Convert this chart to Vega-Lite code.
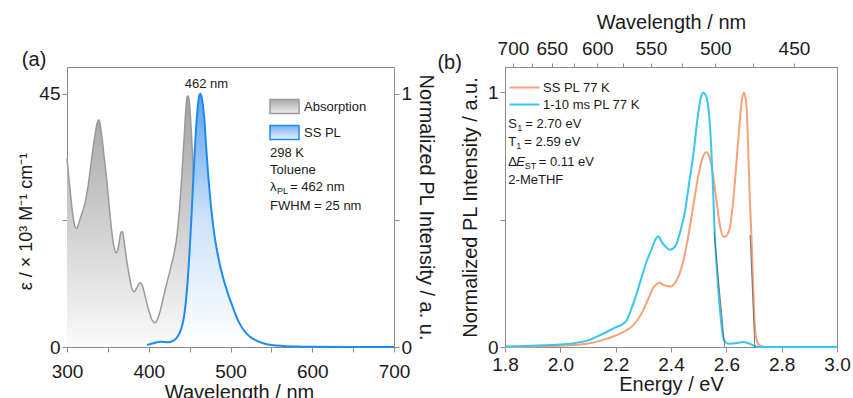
{
  "$schema": "https://vega.github.io/schema/vega-lite/v6.json",
  "padding": {"left": 17, "top": 11, "right": 5, "bottom": 0},
  "bounds": "flush",
  "spacing": 111,
  "resolve": {"scale": {"stroke": "independent"}},
  "config": {
    "font": "Liberation Sans",
    "view": {"stroke": "#8c8c8c", "strokeWidth": 1},
    "axis": {
      "domainColor": "#8c8c8c", "tickColor": "#8c8c8c", "tickSize": 5,
      "labelFont": "Liberation Sans", "labelFontSize": 19, "labelColor": "#1a1a1a",
      "titleFont": "Liberation Sans", "titleFontSize": 20, "titleFontWeight": "normal", "titleColor": "#1a1a1a",
      "grid": false, "labelPadding": 2, "labelFlush": false, "labelOverlap": false
    },
    "legend": {"padding": 0, "labelFont": "Liberation Sans", "labelFontSize": 13, "labelColor": "#1a1a1a"},
    "text": {"font": "Liberation Sans", "fontSize": 13, "color": "#1a1a1a"},
    "title": {"font": "Liberation Sans", "fontSize": 20, "fontWeight": "normal", "color": "#1a1a1a"}
  },
  "hconcat": [
    {
      "width": 327,
      "height": 280,
      "title": {"text": "(a)", "anchor": "start", "frame": "bounds", "offset": 0, "baseline": "alphabetic", "dx": 4, "dy": 19},
      "layer": [
        {
          "data": {"values": [
            {"wl": 300, "eps": 33.5}, {"wl": 302, "eps": 30.5}, {"wl": 304, "eps": 27.5}, {"wl": 306, "eps": 24.8},
            {"wl": 308, "eps": 22.6}, {"wl": 310, "eps": 21.3}, {"wl": 312, "eps": 21.1}, {"wl": 314, "eps": 21.8},
            {"wl": 317, "eps": 23.2}, {"wl": 320, "eps": 24.5}, {"wl": 323, "eps": 26.2}, {"wl": 326, "eps": 28.8},
            {"wl": 329, "eps": 32.2}, {"wl": 332, "eps": 35.5}, {"wl": 335, "eps": 38.3}, {"wl": 337, "eps": 39.8},
            {"wl": 339, "eps": 40.4}, {"wl": 341, "eps": 39.2}, {"wl": 343, "eps": 37.0}, {"wl": 345, "eps": 34.3},
            {"wl": 348, "eps": 30.6}, {"wl": 351, "eps": 26.0}, {"wl": 354, "eps": 21.5}, {"wl": 357, "eps": 18.2},
            {"wl": 360, "eps": 16.7}, {"wl": 362, "eps": 17.2}, {"wl": 364, "eps": 18.8}, {"wl": 366, "eps": 20.4},
            {"wl": 368, "eps": 20.5}, {"wl": 370, "eps": 18.6}, {"wl": 373, "eps": 15.4}, {"wl": 376, "eps": 12.8},
            {"wl": 379, "eps": 10.6}, {"wl": 382, "eps": 9.8}, {"wl": 385, "eps": 10.4}, {"wl": 388, "eps": 11.2},
            {"wl": 390, "eps": 11.4}, {"wl": 392, "eps": 11.0}, {"wl": 395, "eps": 9.4}, {"wl": 398, "eps": 7.6},
            {"wl": 401, "eps": 6.0}, {"wl": 404, "eps": 4.8}, {"wl": 407, "eps": 4.3}, {"wl": 410, "eps": 4.7},
            {"wl": 413, "eps": 5.9}, {"wl": 416, "eps": 7.6}, {"wl": 419, "eps": 9.5}, {"wl": 422, "eps": 11.3},
            {"wl": 425, "eps": 13.0}, {"wl": 428, "eps": 14.8}, {"wl": 431, "eps": 16.6}, {"wl": 434, "eps": 19.2},
            {"wl": 437, "eps": 23.5}, {"wl": 440, "eps": 29.5}, {"wl": 443, "eps": 36.5}, {"wl": 445, "eps": 41.5},
            {"wl": 447, "eps": 44.5}, {"wl": 448.5, "eps": 44.6}, {"wl": 450, "eps": 43.0}, {"wl": 452, "eps": 38.5},
            {"wl": 455, "eps": 30.0}, {"wl": 458, "eps": 22.0}, {"wl": 461, "eps": 14.5}, {"wl": 464, "eps": 9.0},
            {"wl": 467, "eps": 5.5}, {"wl": 470, "eps": 3.5}, {"wl": 475, "eps": 1.8}, {"wl": 480, "eps": 1.0},
            {"wl": 490, "eps": 0.4}, {"wl": 500, "eps": 0.2}, {"wl": 520, "eps": 0.0}
          ]},
          "layer": [
            {
              "mark": {"type": "area", "interpolate": "monotone",
                "fill": {"gradient": "linear", "x1": 0, "y1": 0, "x2": 0, "y2": 1,
                  "stops": [{"offset": 0, "color": "#a2a2a2"}, {"offset": 1, "color": "#fbfbfb"}]}},
              "encoding": {
                "x": {"field": "wl", "type": "quantitative",
                  "scale": {"domain": [300, 700], "nice": false, "zero": false},
                  "axis": {"title": "Wavelength / nm", "labelPadding": 10, "titlePadding": 1, "titleX": 172,
                    "values": [300, 350, 400, 450, 500, 550, 600, 650, 700],
                    "labelExpr": "datum.value % 100 == 0 ? format(datum.value, 'd') : ''"}},
                "y": {"field": "eps", "type": "quantitative",
                  "scale": {"domain": [0, 49.76], "nice": false},
                  "axis": {"title": "ε / × 10³ M⁻¹ cm⁻¹", "titlePadding": 3, "titleFontSize": 18, "titleY": 154,
                    "values": [0, 22.5, 45],
                    "labelExpr": "datum.value == 45 ? '45' : datum.value == 0 ? '0' : ''"}}
              }
            },
            {
              "mark": {"type": "line", "interpolate": "monotone", "strokeWidth": 1.5},
              "encoding": {
                "x": {"field": "wl", "type": "quantitative"},
                "y": {"field": "eps", "type": "quantitative"},
                "stroke": {"datum": "Absorption", "type": "nominal",
                  "scale": {"domain": ["Absorption", "SS PL"], "range": ["#9a9a9a", "#1f8bf0"]},
                  "legend": {"title": null, "orient": "none", "legendX": 202, "legendY": 24,
                    "symbolType": "M-1,-0.48H1V0.48H-1Z", "symbolSize": 841, "symbolStrokeWidth": 1.5,
                    "labelOffset": 4, "rowPadding": 0,
                    "encode": {"symbols": {"update": {"fill": [
                      {"test": "datum.value === 'Absorption'", "value": {"gradient": "linear", "x1": 0, "y1": 0, "x2": 0, "y2": 1,
                        "stops": [{"offset": 0, "color": "#a8a8a8"}, {"offset": 1, "color": "#efefef"}]}},
                      {"value": {"gradient": "linear", "x1": 0, "y1": 0, "x2": 0, "y2": 1,
                        "stops": [{"offset": 0, "color": "#74b0f3"}, {"offset": 1, "color": "#eaf3fd"}]}}
                    ]}}}}}
              }
            },
            {
              "data": {"values": [{}]},
              "mark": {"type": "text", "align": "center", "baseline": "middle"},
              "encoding": {"x": {"datum": 470.6}, "y": {"datum": 46.8}, "text": {"value": "462 nm"}}
            },
            {
              "data": {"values": [{}]},
              "mark": {"type": "text", "align": "left", "baseline": "middle"},
              "encoding": {"x": {"datum": 548.4}, "y": {"datum": 34.4}, "text": {"value": "298 K"}}
            },
            {
              "data": {"values": [{}]},
              "mark": {"type": "text", "align": "left", "baseline": "middle"},
              "encoding": {"x": {"datum": 548.4}, "y": {"datum": 31.5}, "text": {"value": "Toluene"}}
            },
            {
              "data": {"values": [{}]},
              "mark": {"type": "text", "align": "left", "baseline": "middle"},
              "encoding": {"x": {"datum": 548.4}, "y": {"datum": 28.5}, "text": {"value": "λ"}}
            },
            {
              "data": {"values": [{}]},
              "mark": {"type": "text", "align": "left", "baseline": "middle", "fontSize": 9, "dx": 7, "dy": 4},
              "encoding": {"x": {"datum": 548.4}, "y": {"datum": 28.5}, "text": {"value": "PL"}}
            },
            {
              "data": {"values": [{}]},
              "mark": {"type": "text", "align": "left", "baseline": "middle", "dx": 20},
              "encoding": {"x": {"datum": 548.4}, "y": {"datum": 28.5}, "text": {"value": "= 462 nm"}}
            },
            {
              "data": {"values": [{}]},
              "mark": {"type": "text", "align": "left", "baseline": "middle"},
              "encoding": {"x": {"datum": 548.4}, "y": {"datum": 25.0}, "text": {"value": "FWHM = 25 nm"}}
            }
          ]
        },
        {
          "data": {"values": [
            {"wl": 398, "pl": 0.008}, {"wl": 402, "pl": 0.012}, {"wl": 406, "pl": 0.015}, {"wl": 410, "pl": 0.019},
            {"wl": 414, "pl": 0.021}, {"wl": 418, "pl": 0.02}, {"wl": 422, "pl": 0.019}, {"wl": 426, "pl": 0.02},
            {"wl": 430, "pl": 0.025}, {"wl": 433, "pl": 0.032}, {"wl": 436, "pl": 0.045}, {"wl": 439, "pl": 0.065},
            {"wl": 442, "pl": 0.1}, {"wl": 444, "pl": 0.14}, {"wl": 446, "pl": 0.2}, {"wl": 448, "pl": 0.28},
            {"wl": 450, "pl": 0.38}, {"wl": 452, "pl": 0.5}, {"wl": 454, "pl": 0.63}, {"wl": 456, "pl": 0.76},
            {"wl": 458, "pl": 0.87}, {"wl": 460, "pl": 0.95}, {"wl": 462, "pl": 0.995}, {"wl": 463, "pl": 1.0},
            {"wl": 464, "pl": 0.995}, {"wl": 466, "pl": 0.96}, {"wl": 468, "pl": 0.9}, {"wl": 470, "pl": 0.8},
            {"wl": 472, "pl": 0.71}, {"wl": 474, "pl": 0.63}, {"wl": 476, "pl": 0.56}, {"wl": 478, "pl": 0.5},
            {"wl": 480, "pl": 0.45}, {"wl": 483, "pl": 0.39}, {"wl": 486, "pl": 0.34}, {"wl": 490, "pl": 0.285},
            {"wl": 494, "pl": 0.24}, {"wl": 498, "pl": 0.2}, {"wl": 502, "pl": 0.165}, {"wl": 506, "pl": 0.13},
            {"wl": 510, "pl": 0.1}, {"wl": 515, "pl": 0.072}, {"wl": 520, "pl": 0.052}, {"wl": 525, "pl": 0.038},
            {"wl": 530, "pl": 0.028}, {"wl": 540, "pl": 0.015}, {"wl": 550, "pl": 0.008}, {"wl": 565, "pl": 0.004},
            {"wl": 580, "pl": 0.002}, {"wl": 600, "pl": 0.001}, {"wl": 650, "pl": 0.0}, {"wl": 700, "pl": 0.0}
          ]},
          "layer": [
            {
              "mark": {"type": "area", "interpolate": "monotone",
                "fill": {"gradient": "linear", "x1": 0, "y1": 0, "x2": 0, "y2": 1,
                  "stops": [{"offset": 0, "color": "#5aa2f0"}, {"offset": 0.5, "color": "#cfe3fa"}, {"offset": 1, "color": "#ffffff"}]}},
              "encoding": {
                "x": {"field": "wl", "type": "quantitative"},
                "y": {"field": "pl", "type": "quantitative",
                  "scale": {"domain": [0, 1.106], "nice": false},
                  "axis": {"orient": "right", "title": "Normalized PL Intensity / a. u.", "titlePadding": 4,
                    "values": [0, 0.5, 1],
                    "labelExpr": "datum.value == 1 ? '1' : datum.value == 0 ? '0' : ''"}}
              }
            },
            {
              "mark": {"type": "line", "interpolate": "monotone", "strokeWidth": 2},
              "encoding": {
                "x": {"field": "wl", "type": "quantitative"},
                "y": {"field": "pl", "type": "quantitative"},
                "stroke": {"datum": "SS PL", "type": "nominal"}
              }
            }
          ]
        }
      ],
      "resolve": {"scale": {"y": "independent"}}
    },
    {
      "width": 332,
      "height": 280,
      "title": {"text": "(b)", "anchor": "start", "frame": "bounds", "offset": 0, "baseline": "alphabetic", "dx": -23, "dy": 77},
      "layer": [
        {
          "data": {"values": [
            {"E": 1.80, "I": 0.0, "s": "SS PL 77 K"}, {"E": 1.90, "I": 0.002, "s": "SS PL 77 K"},
            {"E": 2.00, "I": 0.005, "s": "SS PL 77 K"}, {"E": 2.05, "I": 0.008, "s": "SS PL 77 K"},
            {"E": 2.10, "I": 0.014, "s": "SS PL 77 K"}, {"E": 2.15, "I": 0.026, "s": "SS PL 77 K"},
            {"E": 2.20, "I": 0.045, "s": "SS PL 77 K"}, {"E": 2.23, "I": 0.06, "s": "SS PL 77 K"},
            {"E": 2.26, "I": 0.082, "s": "SS PL 77 K"}, {"E": 2.28, "I": 0.108, "s": "SS PL 77 K"},
            {"E": 2.30, "I": 0.145, "s": "SS PL 77 K"}, {"E": 2.32, "I": 0.195, "s": "SS PL 77 K"},
            {"E": 2.335, "I": 0.232, "s": "SS PL 77 K"}, {"E": 2.35, "I": 0.248, "s": "SS PL 77 K"},
            {"E": 2.36, "I": 0.252, "s": "SS PL 77 K"}, {"E": 2.37, "I": 0.245, "s": "SS PL 77 K"},
            {"E": 2.385, "I": 0.24, "s": "SS PL 77 K"}, {"E": 2.40, "I": 0.238, "s": "SS PL 77 K"},
            {"E": 2.415, "I": 0.252, "s": "SS PL 77 K"}, {"E": 2.43, "I": 0.285, "s": "SS PL 77 K"},
            {"E": 2.445, "I": 0.34, "s": "SS PL 77 K"}, {"E": 2.46, "I": 0.42, "s": "SS PL 77 K"},
            {"E": 2.48, "I": 0.55, "s": "SS PL 77 K"}, {"E": 2.50, "I": 0.68, "s": "SS PL 77 K"},
            {"E": 2.515, "I": 0.745, "s": "SS PL 77 K"}, {"E": 2.527, "I": 0.765, "s": "SS PL 77 K"},
            {"E": 2.538, "I": 0.75, "s": "SS PL 77 K"}, {"E": 2.55, "I": 0.69, "s": "SS PL 77 K"},
            {"E": 2.565, "I": 0.57, "s": "SS PL 77 K"}, {"E": 2.578, "I": 0.47, "s": "SS PL 77 K"},
            {"E": 2.59, "I": 0.432, "s": "SS PL 77 K"}, {"E": 2.60, "I": 0.437, "s": "SS PL 77 K"},
            {"E": 2.613, "I": 0.472, "s": "SS PL 77 K"}, {"E": 2.625, "I": 0.577, "s": "SS PL 77 K"},
            {"E": 2.643, "I": 0.812, "s": "SS PL 77 K"}, {"E": 2.655, "I": 0.96, "s": "SS PL 77 K"},
            {"E": 2.663, "I": 1.0, "s": "SS PL 77 K"}, {"E": 2.668, "I": 0.985, "s": "SS PL 77 K"},
            {"E": 2.673, "I": 0.943, "s": "SS PL 77 K"}, {"E": 2.679, "I": 0.78, "s": "SS PL 77 K"},
            {"E": 2.685, "I": 0.577, "s": "SS PL 77 K"}, {"E": 2.691, "I": 0.432, "s": "SS PL 77 K"},
            {"E": 2.697, "I": 0.24, "s": "SS PL 77 K"}, {"E": 2.703, "I": 0.08, "s": "SS PL 77 K"},
            {"E": 2.709, "I": 0.03, "s": "SS PL 77 K"}, {"E": 2.715, "I": 0.013, "s": "SS PL 77 K"},
            {"E": 2.725, "I": 0.004, "s": "SS PL 77 K"}, {"E": 2.74, "I": 0.0, "s": "SS PL 77 K"},
            {"E": 3.00, "I": 0.0, "s": "SS PL 77 K"},
            {"E": 1.80, "I": 0.002, "s": "1-10 ms PL 77 K"}, {"E": 1.90, "I": 0.005, "s": "1-10 ms PL 77 K"},
            {"E": 2.00, "I": 0.01, "s": "1-10 ms PL 77 K"}, {"E": 2.05, "I": 0.015, "s": "1-10 ms PL 77 K"},
            {"E": 2.10, "I": 0.026, "s": "1-10 ms PL 77 K"}, {"E": 2.15, "I": 0.05, "s": "1-10 ms PL 77 K"},
            {"E": 2.20, "I": 0.077, "s": "1-10 ms PL 77 K"}, {"E": 2.23, "I": 0.093, "s": "1-10 ms PL 77 K"},
            {"E": 2.24, "I": 0.105, "s": "1-10 ms PL 77 K"}, {"E": 2.255, "I": 0.145, "s": "1-10 ms PL 77 K"},
            {"E": 2.27, "I": 0.19, "s": "1-10 ms PL 77 K"}, {"E": 2.29, "I": 0.26, "s": "1-10 ms PL 77 K"},
            {"E": 2.31, "I": 0.33, "s": "1-10 ms PL 77 K"}, {"E": 2.33, "I": 0.385, "s": "1-10 ms PL 77 K"},
            {"E": 2.345, "I": 0.425, "s": "1-10 ms PL 77 K"}, {"E": 2.355, "I": 0.435, "s": "1-10 ms PL 77 K"},
            {"E": 2.365, "I": 0.415, "s": "1-10 ms PL 77 K"}, {"E": 2.38, "I": 0.395, "s": "1-10 ms PL 77 K"},
            {"E": 2.395, "I": 0.382, "s": "1-10 ms PL 77 K"}, {"E": 2.405, "I": 0.385, "s": "1-10 ms PL 77 K"},
            {"E": 2.42, "I": 0.405, "s": "1-10 ms PL 77 K"}, {"E": 2.435, "I": 0.46, "s": "1-10 ms PL 77 K"},
            {"E": 2.45, "I": 0.53, "s": "1-10 ms PL 77 K"}, {"E": 2.465, "I": 0.64, "s": "1-10 ms PL 77 K"},
            {"E": 2.48, "I": 0.75, "s": "1-10 ms PL 77 K"}, {"E": 2.495, "I": 0.89, "s": "1-10 ms PL 77 K"},
            {"E": 2.507, "I": 0.975, "s": "1-10 ms PL 77 K"}, {"E": 2.516, "I": 1.0, "s": "1-10 ms PL 77 K"},
            {"E": 2.525, "I": 0.99, "s": "1-10 ms PL 77 K"}, {"E": 2.535, "I": 0.94, "s": "1-10 ms PL 77 K"},
            {"E": 2.546, "I": 0.773, "s": "1-10 ms PL 77 K"}, {"E": 2.552, "I": 0.62, "s": "1-10 ms PL 77 K"},
            {"E": 2.558, "I": 0.446, "s": "1-10 ms PL 77 K"}, {"E": 2.566, "I": 0.3, "s": "1-10 ms PL 77 K"},
            {"E": 2.574, "I": 0.184, "s": "1-10 ms PL 77 K"}, {"E": 2.581, "I": 0.1, "s": "1-10 ms PL 77 K"},
            {"E": 2.588, "I": 0.04, "s": "1-10 ms PL 77 K"}, {"E": 2.596, "I": 0.02, "s": "1-10 ms PL 77 K"},
            {"E": 2.61, "I": 0.013, "s": "1-10 ms PL 77 K"}, {"E": 2.64, "I": 0.016, "s": "1-10 ms PL 77 K"},
            {"E": 2.66, "I": 0.02, "s": "1-10 ms PL 77 K"}, {"E": 2.675, "I": 0.017, "s": "1-10 ms PL 77 K"},
            {"E": 2.69, "I": 0.01, "s": "1-10 ms PL 77 K"}, {"E": 2.705, "I": 0.003, "s": "1-10 ms PL 77 K"},
            {"E": 2.72, "I": 0.0, "s": "1-10 ms PL 77 K"}, {"E": 3.00, "I": 0.0, "s": "1-10 ms PL 77 K"}
          ]},
          "layer": [
            {
              "mark": {"type": "line", "interpolate": "monotone", "strokeWidth": 2},
              "encoding": {
                "x": {"field": "E", "type": "quantitative",
                  "scale": {"domain": [1.8, 3.0], "nice": false, "zero": false},
                  "axis": {"title": "Energy / eV", "labelPadding": 3, "titlePadding": 0,
                    "values": [1.8, 1.9, 2.0, 2.1, 2.2, 2.3, 2.4, 2.5, 2.6, 2.7, 2.8, 2.9, 3.0],
                    "labelExpr": "round(datum.value * 10) % 2 == 0 ? format(datum.value, '.1f') : ''"}},
                "y": {"field": "I", "type": "quantitative",
                  "scale": {"domain": [0, 1.1], "nice": false},
                  "axis": {"title": "Normalized PL Intensity / a.u.", "titlePadding": 7,
                    "values": [0, 0.5, 1],
                    "labelExpr": "datum.value == 1 ? '1' : datum.value == 0 ? '0' : ''"}},
                "stroke": {"field": "s", "type": "nominal",
                  "scale": {"domain": ["SS PL 77 K", "1-10 ms PL 77 K"], "range": ["#f5a27c", "#38c6f2"]},
                  "legend": {"title": null, "orient": "none", "legendX": 13, "legendY": 14,
                    "symbolType": "M-3,0H3", "symbolSize": 100, "symbolStrokeWidth": 2,
                    "labelOffset": 12, "rowPadding": 3}},
                "order": {"field": "s", "sort": "descending"}
              }
            },
            {
              "data": {"values": [
                {"E": 2.556, "I": 0.45, "t": "T1"}, {"E": 2.594, "I": 0.0, "t": "T1"},
                {"E": 2.686, "I": 0.44, "t": "S1"}, {"E": 2.703, "I": 0.0, "t": "S1"}
              ]},
              "mark": {"type": "line", "stroke": "#5a5a5a", "strokeWidth": 1, "opacity": 0.8},
              "encoding": {
                "x": {"field": "E", "type": "quantitative"},
                "y": {"field": "I", "type": "quantitative"},
                "detail": {"field": "t", "type": "nominal"}
              }
            },
            {
              "data": {"values": [{}]},
              "mark": {"type": "text", "align": "left", "baseline": "middle"},
              "encoding": {"x": {"datum": 1.812}, "y": {"datum": 0.878}, "text": {"value": "S"}}
            },
            {
              "data": {"values": [{}]},
              "mark": {"type": "text", "align": "left", "baseline": "middle", "fontSize": 9, "dx": 9, "dy": 4},
              "encoding": {"x": {"datum": 1.812}, "y": {"datum": 0.878}, "text": {"value": "1"}}
            },
            {
              "data": {"values": [{}]},
              "mark": {"type": "text", "align": "left", "baseline": "middle", "dx": 17},
              "encoding": {"x": {"datum": 1.812}, "y": {"datum": 0.878}, "text": {"value": "= 2.70 eV"}}
            },
            {
              "data": {"values": [{}]},
              "mark": {"type": "text", "align": "left", "baseline": "middle"},
              "encoding": {"x": {"datum": 1.812}, "y": {"datum": 0.806}, "text": {"value": "T"}}
            },
            {
              "data": {"values": [{}]},
              "mark": {"type": "text", "align": "left", "baseline": "middle", "fontSize": 9, "dx": 8, "dy": 4},
              "encoding": {"x": {"datum": 1.812}, "y": {"datum": 0.806}, "text": {"value": "1"}}
            },
            {
              "data": {"values": [{}]},
              "mark": {"type": "text", "align": "left", "baseline": "middle", "dx": 16},
              "encoding": {"x": {"datum": 1.812}, "y": {"datum": 0.806}, "text": {"value": "= 2.59 eV"}}
            },
            {
              "data": {"values": [{}]},
              "mark": {"type": "text", "align": "left", "baseline": "middle"},
              "encoding": {"x": {"datum": 1.812}, "y": {"datum": 0.727}, "text": {"value": "Δ"}}
            },
            {
              "data": {"values": [{}]},
              "mark": {"type": "text", "align": "left", "baseline": "middle", "fontStyle": "italic", "dx": 8},
              "encoding": {"x": {"datum": 1.812}, "y": {"datum": 0.727}, "text": {"value": "E"}}
            },
            {
              "data": {"values": [{}]},
              "mark": {"type": "text", "align": "left", "baseline": "middle", "fontSize": 9, "dx": 16.5, "dy": 4},
              "encoding": {"x": {"datum": 1.812}, "y": {"datum": 0.727}, "text": {"value": "ST"}}
            },
            {
              "data": {"values": [{}]},
              "mark": {"type": "text", "align": "left", "baseline": "middle", "dx": 30.5},
              "encoding": {"x": {"datum": 1.812}, "y": {"datum": 0.727}, "text": {"value": "= 0.11 eV"}}
            },
            {
              "data": {"values": [{}]},
              "mark": {"type": "text", "align": "left", "baseline": "middle"},
              "encoding": {"x": {"datum": 1.812}, "y": {"datum": 0.658}, "text": {"value": "2-MeTHF"}}
            }
          ]
        },
        {
          "data": {"values": [{}]},
          "mark": {"type": "rule", "opacity": 0},
          "encoding": {
            "x": {"datum": 600, "type": "quantitative",
              "scale": {"type": "pow", "exponent": -1, "domain": [711.11, 426.67], "nice": false, "zero": false},
              "axis": {"orient": "top", "title": "Wavelength / nm", "titlePadding": 7.5, "tickSize": 4, "labelPadding": 4.5,
                "values": [700, 675, 650, 625, 600, 575, 550, 525, 500, 475, 450],
                "labelExpr": "datum.value % 50 == 0 ? format(datum.value, 'd') : ''"}}
          }
        }
      ],
      "resolve": {"scale": {"x": "independent"}}
    }
  ]
}
